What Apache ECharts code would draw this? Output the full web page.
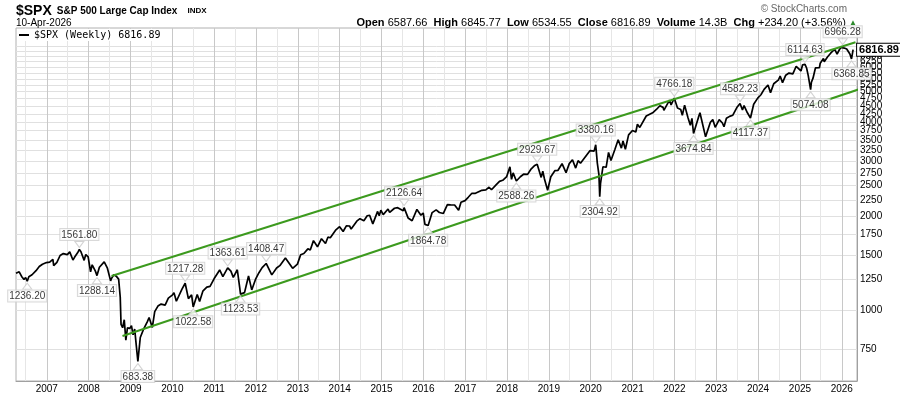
<!DOCTYPE html>
<html><head><meta charset="utf-8">
<script src="https://cdn.jsdelivr.net/npm/echarts@6/dist/echarts.min.js"></script>
<style>html,body{margin:0;padding:0;background:#fff}#c{width:900px;height:396px}</style>
</head><body><div id="c"></div>
<script>
const spxWeekly = [
['2006-04-07',1310],['2006-04-21',1311],['2006-05-05',1325],['2006-05-26',1280],['2006-06-16',1251],['2006-06-30',1270],['2006-07-14',1236.20],['2006-07-28',1278],['2006-08-25',1296],['2006-09-29',1336],['2006-10-27',1377],['2006-11-24',1401],['2006-12-29',1418],
['2007-01-26',1422],['2007-02-23',1451],['2007-03-02',1387],['2007-03-30',1421],['2007-04-27',1494],['2007-05-25',1515],['2007-06-08',1507],['2007-06-29',1503],['2007-07-20',1534],['2007-08-17',1445],['2007-08-31',1474],['2007-09-28',1527],['2007-10-12',1561.80],['2007-10-26',1535],['2007-11-23',1441],['2007-12-07',1504],['2007-12-28',1478],
['2008-01-18',1325],['2008-02-01',1395],['2008-02-29',1331],['2008-03-14',1288.14],['2008-04-04',1370],['2008-05-16',1425],['2008-06-13',1360],['2008-07-11',1239],['2008-07-18',1260],['2008-08-08',1296],['2008-08-29',1283],['2008-09-19',1255],['2008-10-03',1099],['2008-10-10',899],['2008-10-24',877],['2008-11-07',930],['2008-11-21',800],['2008-12-05',876],['2008-12-26',873],
['2009-01-09',890],['2009-01-23',832],['2009-02-06',869],['2009-02-20',770],['2009-03-06',683.38],['2009-03-27',816],['2009-04-24',866],['2009-05-29',919],['2009-06-12',946],['2009-07-10',879],['2009-07-31',987],['2009-08-28',1029],['2009-09-25',1044],['2009-10-30',1036],['2009-11-27',1091],['2009-12-31',1115],
['2010-01-15',1136],['2010-02-05',1066],['2010-03-26',1166],['2010-04-23',1217.28],['2010-05-21',1087],['2010-06-18',1117],['2010-07-02',1022.58],['2010-08-06',1121],['2010-08-27',1065],['2010-09-24',1148],['2010-10-29',1183],['2010-11-26',1189],['2010-12-31',1258],
['2011-02-18',1343],['2011-03-18',1279],['2011-04-29',1363.61],['2011-05-27',1331],['2011-06-17',1271],['2011-07-22',1345],['2011-08-12',1178],['2011-08-19',1123.53],['2011-09-23',1136],['2011-10-28',1285],['2011-11-25',1159],['2011-12-30',1258],
['2012-01-27',1316],['2012-02-24',1366],['2012-03-30',1408.47],['2012-05-18',1295],['2012-06-29',1362],['2012-07-27',1386],['2012-09-14',1466],['2012-11-16',1359],['2012-12-28',1402],
['2013-01-25',1503],['2013-02-22',1516],['2013-03-29',1569],['2013-04-19',1555],['2013-05-17',1667],['2013-06-21',1593],['2013-07-26',1691],['2013-08-30',1633],['2013-09-20',1710],['2013-10-11',1703],['2013-11-29',1806],['2013-12-31',1848],
['2014-01-31',1783],['2014-02-28',1859],['2014-03-28',1857],['2014-04-11',1816],['2014-05-30',1924],['2014-06-27',1960],['2014-07-31',1931],['2014-08-29',2003],['2014-09-19',2010],['2014-10-17',1887],['2014-11-28',2068],['2014-12-12',2002],['2014-12-26',2088],
['2015-01-16',2019],['2015-02-27',2105],['2015-03-13',2053],['2015-04-24',2117],['2015-05-22',2126.06],['2015-07-10',2077],['2015-07-17',2126.64],['2015-08-21',1971],['2015-08-28',1989],['2015-09-25',1931],['2015-11-06',2099],['2015-12-11',2012],['2015-12-31',2044],
['2016-01-15',1880],['2016-02-12',1864.78],['2016-03-18',2050],['2016-04-22',2092],['2016-05-20',2052],['2016-06-24',2037],['2016-07-29',2174],['2016-08-26',2170],['2016-09-30',2168],['2016-11-04',2085],['2016-11-25',2213],['2016-12-30',2239],
['2017-01-27',2295],['2017-02-28',2364],['2017-03-31',2363],['2017-04-14',2329],['2017-05-26',2416],['2017-06-30',2423],['2017-07-28',2472],['2017-08-18',2426],['2017-09-29',2519],['2017-10-27',2581],['2017-11-24',2602],['2017-12-29',2674],
['2018-01-26',2873],['2018-02-09',2620],['2018-02-23',2747],['2018-03-23',2588.26],['2018-04-27',2670],['2018-05-25',2721],['2018-06-29',2718],['2018-07-27',2819],['2018-08-31',2902],['2018-09-21',2929.67],['2018-10-26',2658],['2018-11-09',2781],['2018-11-23',2633],['2018-12-07',2633],['2018-12-21',2417],
['2019-01-18',2671],['2019-02-22',2793],['2019-03-22',2801],['2019-04-26',2940],['2019-05-31',2752],['2019-06-28',2942],['2019-07-26',3026],['2019-08-23',2847],['2019-09-13',3007],['2019-10-04',2952],['2019-11-29',3141],['2019-12-27',3240],
['2020-01-31',3226],['2020-02-14',3380.16],['2020-02-28',2954],['2020-03-13',2711],['2020-03-20',2304.92],['2020-03-27',2541],['2020-04-17',2875],['2020-05-15',2864],['2020-06-05',3194],['2020-06-26',3009],['2020-07-31',3271],['2020-08-28',3508],['2020-09-25',3298],['2020-10-09',3477],['2020-10-30',3270],['2020-11-27',3638],['2020-12-31',3756],
['2021-01-29',3714],['2021-02-12',3934],['2021-03-05',3842],['2021-04-30',4181],['2021-05-14',4174],['2021-06-25',4281],['2021-07-30',4395],['2021-08-27',4509],['2021-09-24',4455],['2021-10-01',4357],['2021-11-19',4698],['2021-12-03',4538],['2021-12-31',4766.18],
['2022-01-28',4432],['2022-02-25',4385],['2022-03-11',4204],['2022-03-31',4530],['2022-04-29',4132],['2022-05-20',3901],['2022-06-03',4109],['2022-06-17',3674.84],['2022-07-29',4130],['2022-08-12',4280],['2022-09-30',3585],['2022-10-14',3583],['2022-11-11',3993],['2022-12-02',4072],['2022-12-23',3845],
['2023-01-27',4071],['2023-02-24',3970],['2023-03-10',3862],['2023-03-31',4109],['2023-04-28',4169],['2023-05-26',4205],['2023-06-30',4450],['2023-07-28',4582.23],['2023-08-18',4370],['2023-09-01',4515],['2023-09-29',4288],['2023-10-27',4117.37],['2023-11-24',4559],['2023-12-29',4770],
['2024-01-26',4891],['2024-02-23',5089],['2024-03-28',5254],['2024-04-19',4967],['2024-05-17',5303],['2024-06-28',5460],['2024-07-12',5615],['2024-08-02',5347],['2024-08-30',5648],['2024-09-27',5738],['2024-10-31',5705],['2024-11-29',6032],['2024-12-06',6090],['2024-12-20',5931],
['2025-01-10',5827],['2025-01-24',6101],['2025-02-14',6114.63],['2025-02-28',5955],['2025-03-14',5639],['2025-03-28',5581],['2025-04-04',5074.08],['2025-04-11',5363],['2025-04-25',5525],['2025-05-16',5958],['2025-05-30',5912],['2025-06-20',5967],['2025-06-27',6173],['2025-07-25',6389],['2025-08-01',6238],['2025-08-29',6460],['2025-09-26',6643],['2025-10-10',6552],['2025-10-31',6840],['2025-11-21',6603],['2025-12-12',6827],['2025-12-26',6930],
['2026-01-09',6966.28],['2026-01-23',6900],['2026-02-13',6850],['2026-02-27',6780],['2026-03-13',6600],['2026-03-27',6368.85],['2026-04-03',6582.69],['2026-04-10',6816.89]
];

// Swing-point annotations
const annoDates  = ['2006-07-14','2007-10-12','2008-03-14','2009-03-06','2010-04-23','2010-07-02','2011-04-29','2011-08-19','2012-03-30','2015-07-17','2016-02-12','2018-03-23','2018-09-21','2020-02-14','2020-03-20','2021-12-31','2022-06-17','2023-07-28','2023-10-27','2025-02-14','2025-04-04','2026-01-09','2026-03-27'];
const annoValues = [1236.20,1561.80,1288.14,683.38,1217.28,1022.58,1363.61,1123.53,1408.47,2126.64,1864.78,2588.26,2929.67,3380.16,2304.92,4766.18,3674.84,4582.23,4117.37,6114.63,5074.08,6966.28,6368.85];
const annoSides  = ['bottom','top','bottom','bottom','top','bottom','top','bottom','top','top','bottom','bottom','top','top','bottom','top','bottom','top','bottom','top','bottom','top','bottom'];

// Trend channel lines
const upperChannelDates  = ['2008-07-19','2026-05-01'];
const upperChannelValues = [1285, 7200];
const lowerChannelDates  = ['2008-10-23','2027-05-30'];
const lowerChannelValues = [825, 5640];

// Axis ticks
const yTickLabels = [750,1000,1250,1500,1750,2000,2250,2500,2750,3000,3250,3500,3750,4000,4250,4500,4750,5000,5250,5500,5750,6000,6250,6500,6750,7000];
const yearTicks = ['2007-01-01','2008-01-01','2009-01-01','2010-01-01','2011-01-01','2012-01-01','2013-01-01','2014-01-01','2015-01-01','2016-01-01','2017-01-01','2018-01-01','2019-01-01','2020-01-01','2021-01-01','2022-01-01','2023-01-01','2024-01-01','2025-01-01','2026-01-01'];
const midYearTicks = ['2006-07-01','2007-07-01','2008-07-01','2009-07-01','2010-07-01','2011-07-01','2012-07-01','2013-07-01','2014-07-01','2015-07-01','2016-07-01','2017-07-01','2018-07-01','2019-07-01','2020-07-01','2021-07-01','2022-07-01','2023-07-01','2024-07-01','2025-07-01'];

const seriesName = '$SPX (Weekly) 6816.89';
const lastClose = '6816.89';

const ts = d => new Date(d + 'T00:00:00Z').getTime();
const chart = echarts.init(document.getElementById('c'), null, {renderer: 'canvas'});
const FONT = 'Liberation Sans';
const X_MIN = ts('2006-04-07'), X_MAX = ts('2026-05-14');

const option = {
  animation: false,
  backgroundColor: '#fff',
  textStyle: {fontFamily: FONT},
  title: [
    {left: 16, top: 2, padding: 0, text: '{a|$SPX} {b|S&P 500 Large Cap Index}  {c|INDX}',
     textStyle: {rich: {
       a: {fontSize: 14, fontWeight: 'bold', fontFamily: FONT, color: '#000'},
       b: {fontSize: 10, fontFamily: FONT, color: '#000'},
       c: {fontSize: 8, fontFamily: FONT, color: '#000'}}}},
    {left: 16, top: 18, padding: 0, text: '10-Apr-2026', textStyle: {fontSize: 10, fontWeight: 'normal', fontFamily: FONT, color: '#000'}},
    {right: 53, top: 4, padding: 0, text: '\u00A9 StockCharts.com', textStyle: {fontSize: 10, fontWeight: 'normal', fontFamily: FONT, color: '#666'}},
    {right: 43, top: 17, padding: 0, text: '{k|Open} 6587.66  {k|High} 6845.77  {k|Low} 6534.55  {k|Close} 6816.89  {k|Volume} 14.3B  {k|Chg} +234.20 (+3.56%) {g|\u25B2}',
     textStyle: {fontSize: 11, fontWeight: 'normal', fontFamily: FONT, color: '#000',
       rich: {k: {fontSize: 11, fontWeight: 'bold', fontFamily: FONT, color: '#000'},
              g: {fontSize: 8, color: '#2e8b2e', fontFamily: FONT}}}}
  ],
  legend: {
    left: 17, top: 29, padding: [1, 3, 1, 2], itemWidth: 10, itemHeight: 2, itemGap: 4,
    icon: 'rect', backgroundColor: '#fff',
    data: [seriesName],
    textStyle: {fontFamily: 'DejaVu Sans Mono', fontSize: 10, color: '#000', padding: [1,0,0,0]}
  },
  grid: {left: 16, right: 43, top: 28, bottom: 15, show: true, borderColor: '#b0b0b0', borderWidth: 1, backgroundColor: 'transparent'},
  xAxis: [
    {type: 'value', min: X_MIN, max: X_MAX,
     axisLine: {show: true, onZero: false, lineStyle: {color: '#a0a0a0'}},
     axisTick: {show: false, customValues: yearTicks.map(ts)},
     axisLabel: {customValues: yearTicks.map(ts), formatter: v => String(new Date(v).getUTCFullYear()), color: '#000', fontSize: 10, fontFamily: FONT, margin: 3},
     splitLine: {show: true, lineStyle: {color: '#c8c8c8', width: 1}}},
    {type: 'value', min: X_MIN, max: X_MAX, show: true, position: 'bottom',
     axisLine: {show: false}, axisLabel: {show: false},
     axisTick: {show: false, customValues: midYearTicks.map(ts)},
     splitLine: {show: true, lineStyle: {color: '#e6e6e6', width: 1}}}
  ],
  yAxis: {
    type: 'log', logBase: 10, position: 'right', min: 592, max: 8000,
    axisLine: {show: true, lineStyle: {color: '#a0a0a0'}},
    axisTick: {show: false, customValues: yTickLabels},
    axisLabel: {customValues: yTickLabels, color: '#000', fontSize: 10, fontFamily: FONT, margin: 3, formatter: v => String(Math.round(v))},
    splitLine: {show: true, lineStyle: {color: '#e0e0e0', width: 1}}
  },
  series: [
    {name: seriesName, type: 'line', xAxisIndex: 0, data: spxWeekly.map(p => [ts(p[0]), p[1]]),
     showSymbol: false, symbol: 'none', lineStyle: {color: '#000', width: 1.7}, itemStyle: {color: '#000'}, z: 3,
     endLabel: {show: true, formatter: lastClose, distance: 4, color: '#000', fontWeight: 'bold', fontSize: 11, fontFamily: FONT,
       backgroundColor: '#fff', borderColor: '#000', borderWidth: 1, padding: [1, 2, 0, 2]}},
    {name: 'upper', type: 'line', xAxisIndex: 0, data: upperChannelDates.map((d, i) => [ts(d), upperChannelValues[i]]),
     showSymbol: false, symbol: 'none', lineStyle: {color: '#3c9a1e', width: 2}, z: 4, clip: false},
    {name: 'lower', type: 'line', xAxisIndex: 0, data: lowerChannelDates.map((d, i) => [ts(d), lowerChannelValues[i]]),
     showSymbol: false, symbol: 'none', lineStyle: {color: '#3c9a1e', width: 2}, z: 4, clip: false},
    {name: 'anno', type: 'scatter', xAxisIndex: 0, z: 6, clip: false,
     symbol: 'triangle', symbolSize: [9, 6],
     itemStyle: {color: '#fff', borderColor: '#c8c8c8', borderWidth: 1},
     data: annoDates.map((d, i) => ({
       value: [ts(d), annoValues[i]],
       symbolRotate: annoSides[i] === 'top' ? 180 : 0,
       symbolOffset: [0, annoSides[i] === 'top' ? -5 : 5],
       label: {position: annoSides[i]}
     })),
     label: {show: true, distance: 1, formatter: p => p.value[1].toFixed(2), color: '#000', fontSize: 10, fontFamily: FONT,
       backgroundColor: '#fff', borderColor: '#cfcfcf', borderWidth: 1, padding: [1, 1, 0, 1]}}
  ]
};
chart.setOption(option);
</script></body></html>
